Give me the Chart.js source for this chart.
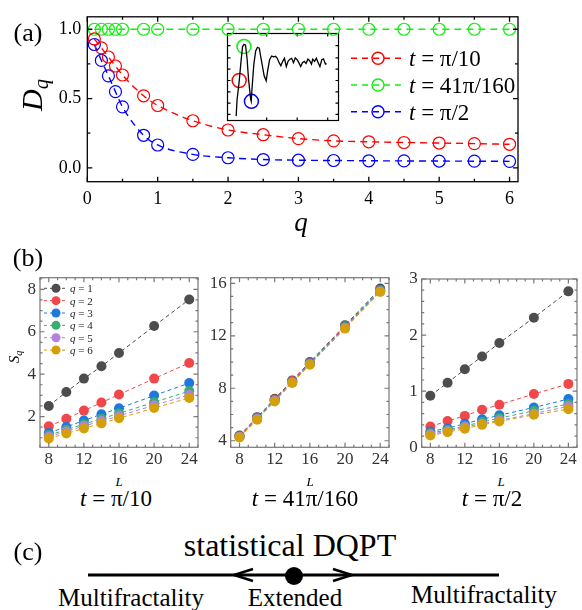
<!DOCTYPE html>
<html>
<head>
<meta charset="utf-8">
<title>D_q and S_q</title>
<script src="https://cdn.jsdelivr.net/npm/chart.js@4.4.1/dist/chart.umd.min.js"></script>
<style>
  body { margin: 0; background: #fff; }
  #fig { position: relative; width: 582px; height: 610px; overflow: hidden;
         font-family: "Liberation Serif", "Times New Roman", serif; color: #000; }
  #fig canvas { position: absolute; }
  .txt { position: absolute; white-space: nowrap; line-height: 1; transform: translate(-50%, -50%); }
  .rot { transform: translate(-50%, -50%) rotate(-90deg); }
  .txt sub { font-size: 0.68em; vertical-align: -0.28em; }
</style>
</head>
<body>
<div id="fig">
  <canvas id="inset" width="128" height="104" style="left:219px;top:25px"></canvas>
  <canvas id="panelA" width="540" height="240" style="left:0;top:0"></canvas>
  <canvas id="b1" width="205" height="210" style="left:0;top:262px"></canvas>
  <canvas id="b2" width="190" height="210" style="left:205px;top:262px"></canvas>
  <canvas id="b3" width="187" height="210" style="left:395px;top:262px"></canvas>

  <div class="txt" style="left:28px;top:33px;font-size:26px">(a)</div>
  <div class="txt rot" style="left:34px;top:95px;font-size:30px"><i>D</i><sub><i>q</i></sub></div>
  <div class="txt" style="left:301px;top:222px;font-size:27px"><i>q</i></div>

  <div class="txt" style="left:28px;top:258px;font-size:26px">(b)</div>
  <div class="txt rot" style="left:16px;top:357px;font-size:15px"><i>S</i><sub><i>q</i></sub></div>
  <div class="txt" style="left:119px;top:481px;font-size:13px"><i>L</i></div>
  <div class="txt" style="left:310px;top:481px;font-size:13px"><i>L</i></div>
  <div class="txt" style="left:501px;top:481px;font-size:13px"><i>L</i></div>
  <div class="txt" style="left:116px;top:498px;font-size:23px"><i>t</i> = π/10</div>
  <div class="txt" style="left:305px;top:498px;font-size:23px"><i>t</i> = 41π/160</div>
  <div class="txt" style="left:492px;top:498px;font-size:23px"><i>t</i> = π/2</div>

  <div class="txt" style="left:28px;top:552px;font-size:26px">(c)</div>
  <div class="txt" style="left:290px;top:545px;font-size:32px">statistical DQPT</div>
  <div class="txt" style="left:131px;top:597px;font-size:25px">Multifractality</div>
  <div class="txt" style="left:295px;top:597px;font-size:25px">Extended</div>
  <div class="txt" style="left:484px;top:594px;font-size:25px">Multifractality</div>
  <svg width="582" height="40" style="position:absolute;left:0;top:555px">
    <line x1="88" y1="20" x2="499" y2="20" stroke="#000" stroke-width="3"/>
    <polyline points="253,14 234,20 253,26" fill="none" stroke="#000" stroke-width="2.5"/>
    <polyline points="333,14 352,20 333,26" fill="none" stroke="#000" stroke-width="2.5"/>
    <circle cx="294" cy="21" r="9" fill="#000"/>
  </svg>
</div>

<script>
// ---- panel (a): D_q versus q ----
const qValues = [0.1, 0.2, 0.3, 0.4, 0.5, 0.8, 1, 1.5, 2, 2.5, 3, 3.5, 4, 4.5, 5, 5.5, 6];
const dqPi10 = [0.93, 0.866, 0.80, 0.735, 0.67, 0.52, 0.45, 0.34, 0.273, 0.239, 0.211, 0.195, 0.188, 0.183, 0.179, 0.175, 0.17];
const dq41Pi160 = [1, 1, 1, 1, 1, 1, 1, 1, 1, 1, 1, 1, 1, 1, 1, 1, 1];
const dqPi2 = [0.89, 0.775, 0.664, 0.55, 0.44, 0.235, 0.165, 0.097, 0.073, 0.06, 0.055, 0.053, 0.051, 0.05, 0.049, 0.048, 0.047];
const qTicks = [0, 1, 2, 3, 4, 5, 6];
const dqTicks = [0, 0.5, 1.0];
const timeLabels = ['π/10', '41π/160', 'π/2'];
const timeColors = ['#ff0000', '#10f010', '#0000ff'];

// ---- inset: curve versus t with the three times marked ----
const insetT = [0, 0.10, 0.31, 0.5, 0.66, 0.81, 0.96, 1.12, 1.27, 1.49, 1.55, 1.64, 1.82, 2.01, 2.19, 2.38,
  2.56, 2.88, 3.09, 3.25, 3.44, 3.65, 3.86, 4.05, 4.23, 4.42, 4.6, 4.79, 4.97, 5.16, 5.34, 5.53, 5.71,
  5.9, 6.08, 6.27, 6.45, 6.64, 6.82, 7.01, 7.19, 7.38, 7.56, 7.75, 7.88, 8.06, 8.25, 8.44, 8.62, 8.81,
  8.99, 9.18, 9.23];
const insetY = [0.05, 0.245, 0.446, 0.68, 0.85, 0.876, 0.866, 0.715, 0.48, 0.245, 0.22, 0.379, 0.648, 0.8,
  0.842, 0.832, 0.715, 0.514, 0.456, 0.58, 0.698, 0.741, 0.731, 0.738, 0.715, 0.665, 0.63, 0.68, 0.715,
  0.62, 0.68, 0.705, 0.715, 0.665, 0.72, 0.698, 0.665, 0.62, 0.665, 0.68, 0.655, 0.705, 0.688, 0.648,
  0.705, 0.68, 0.715, 0.665, 0.62, 0.698, 0.708, 0.648, 0.665];
const markT = [0.314, 0.805, 1.571];
const markY = [0.46, 0.85, 0.22];
const insetXTicks = [3.14, 6.28, 9.42];
const insetYTicks = [0.07, 0.2, 0.33, 0.46, 0.59, 0.72, 0.86];

// ---- panel (b): S_q versus L ----
const sizes = [8, 10, 12, 14, 16, 20, 24];
const sizeTicks = [8, 12, 16, 20, 24];
const qOrders = [1, 2, 3, 4, 5, 6];
const qColors = ['#4d4d4d', '#f0474a', '#1f77e0', '#3aae6f', '#b57fdf', '#d4a00a'];
const sqPi10 = [
  [2.5, 3.16, 3.79, 4.37, 5.0, 6.27, 7.52],
  [1.54, 1.9, 2.28, 2.66, 3.04, 3.79, 4.53],
  [1.23, 1.51, 1.81, 2.11, 2.39, 2.99, 3.58],
  [1.12, 1.38, 1.64, 1.9, 2.15, 2.67, 3.2],
  [1.05, 1.3, 1.55, 1.79, 2.03, 2.53, 3.02],
  [0.97, 1.2, 1.44, 1.68, 1.92, 2.4, 2.88]
];
const sq41Pi160 = [
  [4.4, 5.8, 7.2, 8.6, 10.0, 12.8, 15.6],
  [4.35, 5.75, 7.15, 8.55, 9.95, 12.75, 15.5],
  [4.32, 5.7, 7.1, 8.5, 9.9, 12.7, 15.45],
  [4.3, 5.68, 7.07, 8.47, 9.86, 12.65, 15.42],
  [4.28, 5.65, 7.04, 8.44, 9.83, 12.6, 15.38],
  [4.25, 5.6, 7.0, 8.4, 9.8, 12.55, 15.35]
];
const sqPi2 = [
  [0.92, 1.15, 1.39, 1.62, 1.86, 2.31, 2.78],
  [0.37, 0.47, 0.56, 0.67, 0.76, 0.95, 1.13],
  [0.28, 0.34, 0.42, 0.5, 0.57, 0.71, 0.86],
  [0.25, 0.31, 0.38, 0.45, 0.52, 0.65, 0.77],
  [0.23, 0.29, 0.36, 0.42, 0.48, 0.6, 0.73],
  [0.21, 0.27, 0.33, 0.4, 0.46, 0.58, 0.68]
];

const SERIF = '"Liberation Serif", "Times New Roman", serif';
Chart.defaults.font.family = SERIF;

function steps(from, to, step) {
  const out = [];
  for (let v = from; v <= to + 1e-9; v += step) out.push(+v.toFixed(4));
  return out;
}

// frame around the plot area with inward ticks on every side
const frameTicks = {
  id: 'frameTicks',
  afterDatasetsDraw(chart, args, o) {
    const { ctx, chartArea: a } = chart;
    const x = chart.scales.x, y = chart.scales.y;
    ctx.save();
    ctx.strokeStyle = o.color;
    ctx.lineWidth = o.lineWidth;
    ctx.beginPath();
    const xt = (list, len) => (list || []).forEach(v => {
      const px = x.getPixelForValue(v);
      if (px < a.left - 0.5 || px > a.right + 0.5) return;
      ctx.moveTo(px, a.bottom); ctx.lineTo(px, a.bottom - len);
      ctx.moveTo(px, a.top); ctx.lineTo(px, a.top + len);
    });
    const yt = (list, len) => (list || []).forEach(v => {
      const py = y.getPixelForValue(v);
      if (py < a.top - 0.5 || py > a.bottom + 0.5) return;
      ctx.moveTo(a.left, py); ctx.lineTo(a.left + len, py);
      ctx.moveTo(a.right, py); ctx.lineTo(a.right - len, py);
    });
    xt(o.xMajor, o.major); xt(o.xMinor, o.minor);
    yt(o.yMajor, o.major); yt(o.yMinor, o.minor);
    ctx.stroke();
    ctx.strokeRect(a.left, a.top, a.right - a.left, a.bottom - a.top);
    ctx.restore();
  }
};

// legend of panel (a): dashed sample, open circle and the time label
const timeLegend = {
  id: 'timeLegend',
  afterDatasetsDraw(chart, args, o) {
    const ctx = chart.ctx;
    chart.data.datasets.forEach((ds, i) => {
      const y = o.y + i * o.dy;
      ctx.save();
      ctx.strokeStyle = ds.borderColor;
      ctx.lineWidth = 1.4;
      ctx.setLineDash([6, 5]);
      ctx.beginPath();
      ctx.moveTo(o.x, y); ctx.lineTo(o.x + 54, y);
      ctx.stroke();
      ctx.setLineDash([]);
      ctx.beginPath();
      ctx.arc(o.x + 27, y, 6, 0, Math.PI * 2);
      ctx.stroke();
      ctx.fillStyle = '#000';
      ctx.font = 'italic 23px ' + SERIF;
      ctx.fillText('t', o.x + 58, y + 8);
      const w = ctx.measureText('t').width;
      ctx.font = '23px ' + SERIF;
      ctx.fillText(' = ' + ds.label, o.x + 58 + w, y + 8);
      ctx.restore();
    });
  }
};

// legend of panel (b): dashed sample, filled dot and q value
const qLegend = {
  id: 'qLegend',
  afterDatasetsDraw(chart, args, o) {
    if (!o.show) return;
    const ctx = chart.ctx;
    qOrders.forEach((q, i) => {
      const y = o.y + i * o.dy;
      ctx.save();
      ctx.strokeStyle = qColors[i];
      ctx.lineWidth = 1;
      ctx.setLineDash([3, 3]);
      ctx.beginPath();
      ctx.moveTo(o.x, y); ctx.lineTo(o.x + 24, y);
      ctx.stroke();
      ctx.fillStyle = qColors[i];
      ctx.beginPath();
      ctx.arc(o.x + 12, y, 4.5, 0, Math.PI * 2);
      ctx.fill();
      ctx.fillStyle = '#222';
      ctx.font = 'italic 11px ' + SERIF;
      ctx.fillText('q', o.x + 26, y + 4);
      const w = ctx.measureText('q').width;
      ctx.font = '11px ' + SERIF;
      ctx.fillText(' = ' + q, o.x + 26 + w, y + 4);
      ctx.restore();
    });
  }
};

function linAxis(min, max, ticks, opts) {
  return {
    type: 'linear', min: min, max: max,
    afterBuildTicks: s => { s.ticks = ticks.map(v => ({ value: v })); },
    afterFit: s => {
      if (opts.width !== undefined) s.width = opts.width;
      if (opts.height !== undefined) s.height = opts.height;
    },
    grid: { display: false, drawTicks: false },
    border: { display: false },
    ticks: {
      autoSkip: false, maxRotation: 0, minRotation: 0,
      padding: opts.pad, color: opts.color,
      font: { family: SERIF, size: opts.size },
      callback: opts.fmt || (v => v)
    }
  };
}

// main chart of panel (a)
const seriesA = [dqPi10, dq41Pi160, dqPi2];
new Chart(document.getElementById('panelA'), {
  type: 'scatter',
  data: {
    datasets: seriesA.map((vals, i) => ({
      label: timeLabels[i],
      data: qValues.map((q, k) => ({ x: q, y: vals[k] })),
      showLine: true,
      cubicInterpolationMode: 'monotone',
      borderColor: timeColors[i],
      backgroundColor: 'rgba(0,0,0,0)',
      borderWidth: 1.4,
      borderDash: [7, 5],
      pointRadius: 6,
      pointBorderWidth: 1.2,
      pointBorderColor: timeColors[i],
      pointBackgroundColor: 'rgba(0,0,0,0)',
      clip: false
    }))
  },
  options: {
    responsive: false, animation: false, events: [],
    layout: { padding: { left: 0, right: 22, top: 9, bottom: 0 } },
    scales: {
      x: linAxis(0, 6.12, qTicks, { height: 58.3, pad: 7, size: 18, color: '#000' }),
      y: linAxis(-0.1, 1.09, dqTicks, { width: 87.3, pad: 6, size: 18, color: '#000', fmt: v => v.toFixed(1) })
    },
    plugins: {
      legend: { display: false }, tooltip: { enabled: false },
      frameTicks: { color: '#000', lineWidth: 1.3, major: 5, minor: 3,
        xMajor: qTicks, xMinor: steps(0.5, 5.5, 1), yMajor: dqTicks, yMinor: [0.25, 0.75] },
      timeLegend: { x: 351, y: 58.3, dy: 26.7 }
    }
  },
  plugins: [frameTicks, timeLegend]
});

// inset of panel (a)
new Chart(document.getElementById('inset'), {
  type: 'scatter',
  data: {
    datasets: [{
      data: insetT.map((t, k) => ({ x: t, y: insetY[k] })),
      showLine: true, borderColor: '#000', borderWidth: 1.3, pointRadius: 0, tension: 0
    }].concat(markT.map((t, i) => ({
      data: [{ x: t, y: markY[i] }],
      pointRadius: 7, pointBorderWidth: 1.5,
      pointBorderColor: timeColors[i], pointBackgroundColor: 'rgba(0,0,0,0)',
      clip: false
    })))
  },
  options: {
    responsive: false, animation: false, events: [],
    layout: { padding: 2 },
    scales: {
      x: { type: 'linear', min: -0.89, max: 10.53, display: false },
      y: { type: 'linear', min: 0, max: 1, display: false }
    },
    plugins: {
      legend: { display: false }, tooltip: { enabled: false },
      frameTicks: { color: '#000', lineWidth: 1.2, major: 3, minor: 3,
        xMajor: insetXTicks, yMajor: insetYTicks }
    }
  },
  plugins: [{
    id: 'insetBg',
    beforeDraw(chart) {
      const a = chart.chartArea;
      chart.ctx.fillStyle = '#fff';
      chart.ctx.fillRect(a.left, a.top, a.right - a.left, a.bottom - a.top);
    }
  }, frameTicks]
});

// the three small panels of (b)
function sqChart(id, rows, yMin, yMax, yTicks, yMinor, box, showLegend) {
  new Chart(document.getElementById(id), {
    type: 'scatter',
    data: {
      datasets: rows.map((vals, i) => ({
        label: 'q = ' + qOrders[i],
        data: sizes.map((L, k) => ({ x: L, y: vals[k] })),
        showLine: true,
        borderColor: qColors[i],
        borderWidth: 1,
        borderDash: [4, 3],
        pointRadius: 5,
        pointBorderWidth: 0,
        pointBackgroundColor: qColors[i],
        order: -i
      }))
    },
    options: {
      responsive: false, animation: false, events: [],
      layout: { padding: { left: 0, right: box.right, top: box.top, bottom: 0 } },
      scales: {
        x: linAxis(7, 25, sizeTicks, { height: 24.7, pad: 2, size: 17, color: '#333' }),
        y: linAxis(yMin, yMax, yTicks, { width: box.left, pad: 4, size: 17, color: '#333' })
      },
      plugins: {
        legend: { display: false }, tooltip: { enabled: false },
        frameTicks: { color: '#777', lineWidth: 1.2, major: 4.5, minor: 2.5,
          xMajor: sizeTicks, xMinor: steps(7, 25, 1), yMajor: yTicks, yMinor: yMinor },
        qLegend: { show: showLegend, x: 44, y: 26.3, dy: 12.35 }
      }
    },
    plugins: [frameTicks, qLegend]
  });
}

sqChart('b1', sqPi10, 0.55, 8.55, [2, 4, 6, 8], steps(0.5, 8.5, 0.5), { left: 40, right: 7, top: 15.7 }, true);
sqChart('b2', sq41Pi160, 3.5, 16.43, [4, 8, 12, 16], steps(4, 16, 1), { left: 25.7, right: 6, top: 15.7 }, false);
sqChart('b3', sqPi2, 0, 3, [0, 1, 2, 3], steps(0, 3, 0.2), { left: 26.7, right: 2, top: 17 }, false);
</script>
</body>
</html>
